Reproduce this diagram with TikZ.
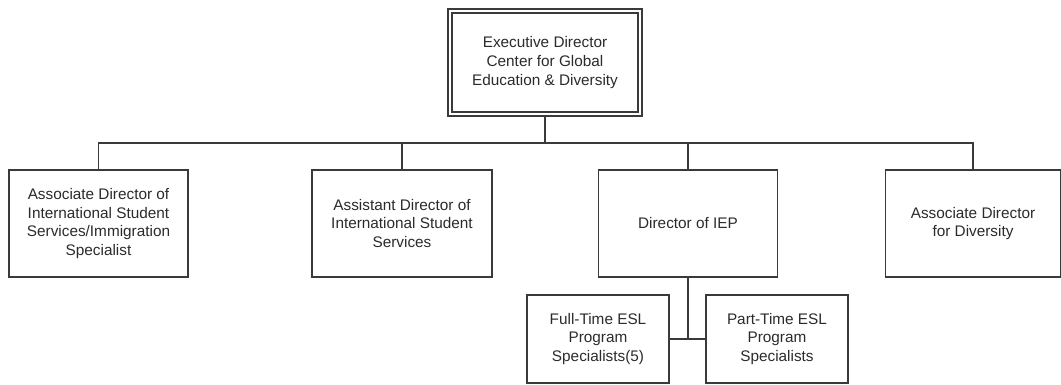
\documentclass[tikz,border=0pt]{standalone}
\usepackage{fontspec}
\setmainfont{Liberation Sans}
\usepackage{xcolor}
\usepackage{tikz}
\usetikzlibrary{positioning}
\definecolor{linegray}{HTML}{3A3A3A}
\definecolor{textgray}{HTML}{2B2B2B}

\begin{document}
\begin{tikzpicture}[x=0.75pt,y=-0.75pt,
  box/.style={draw=linegray,line width=0.9pt,fill=white,align=center,inner sep=2pt,
    text=textgray,font=\fontsize{11.5}{14}\selectfont,minimum width=#1*0.75pt},
  box/.default=179,
  mid/.style={box,minimum height=107*0.75pt},
  low/.style={box=142,minimum height=88*0.75pt},
  link/.style={draw=linegray,line width=0.9pt}]
\useasboundingbox (0,0) rectangle (1061,385);
\node[box=190,minimum height=103*0.75pt,double=white,double distance=2.2pt,line width=0.8pt] (top) at (545,62.5)
  {Executive Director\\Center for Global\\Education \& Diversity};
\coordinate (bus) at (0,143);
\node[mid] (ad1) at (98.5,223.5) {Associate Director of\\International Student\\Services/Immigration\\Specialist};
\node[mid,box=180] (ad2) at (402,223.5) {Assistant Director of\\International Student\\Services};
\node[mid] (iep) at (688,223.5) {Director of IEP};
\node[mid,box=175] (ad4) at (973,223.5) {Associate Director\\for Diversity};
\node[low] (ft) at (598,339) {Full-Time ESL\\Program\\Specialists(5)};
\node[low] (pt) at (777,339) {Part-Time ESL\\Program\\Specialists};
\draw[link] (top.south) -- (top.south |- bus);
\draw[link] (ad1.north) -- (ad1.north |- bus) -- (ad4.north |- bus) -- (ad4.north);
\foreach \n in {ad2,iep} \draw[link] (\n.north) -- (\n.north |- bus);
\draw[link] (iep.south) -- (iep.south |- ft.east);
\draw[link] (ft.east) -- (pt.west);
\end{tikzpicture}
\end{document}
